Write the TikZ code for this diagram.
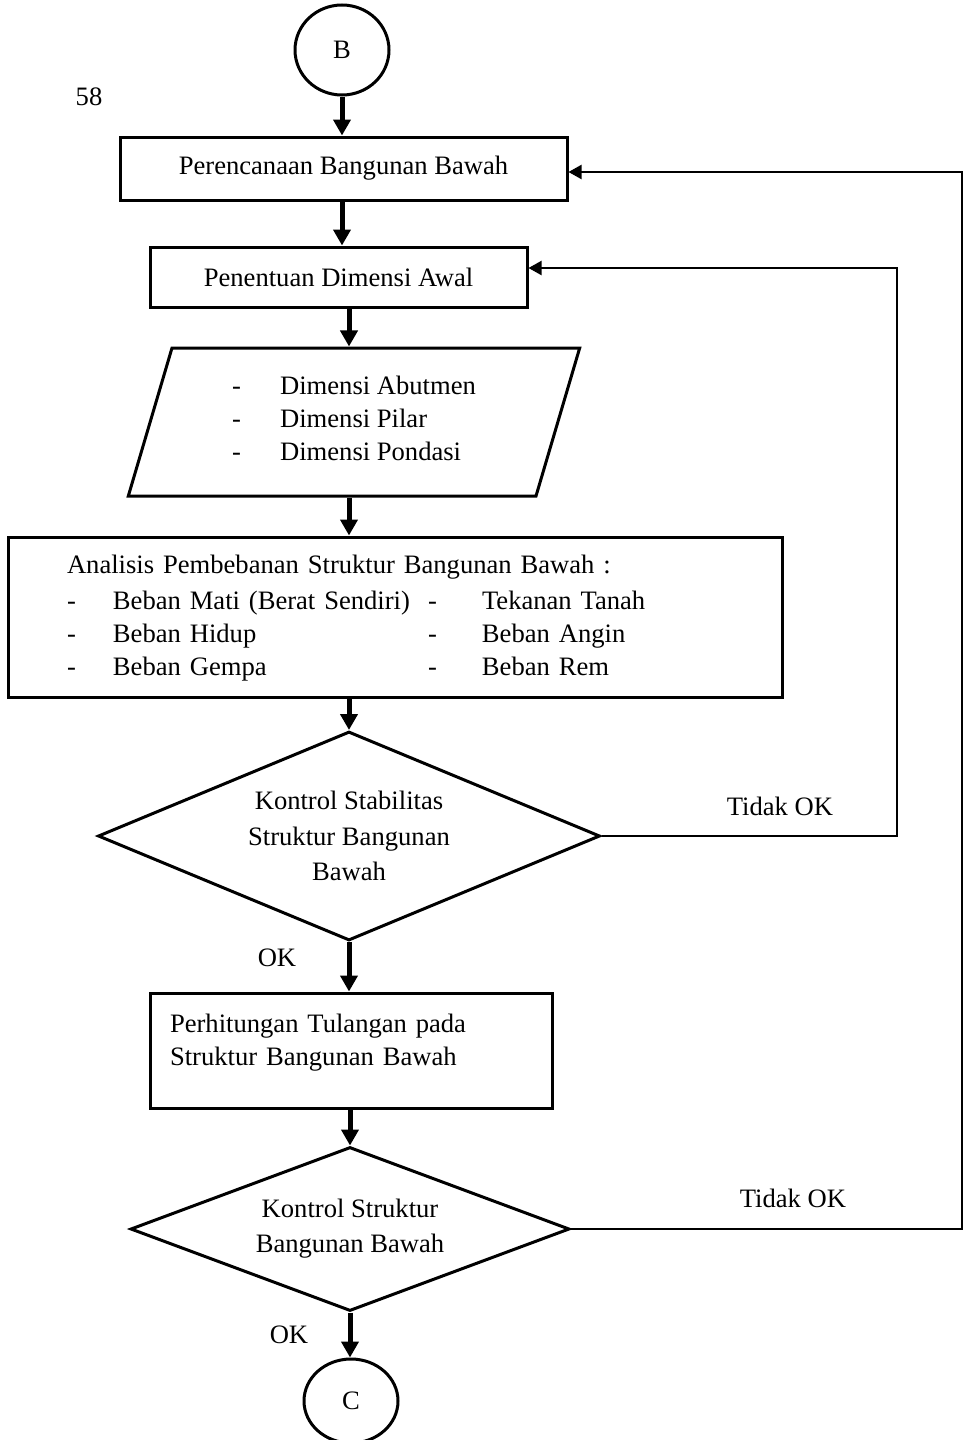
\documentclass[tikz,border=0pt]{standalone}
\usepackage{fontspec}
\setmainfont{Liberation Serif}
\usetikzlibrary{
  arrows.meta,
  shapes.geometric,
  positioning,
  calc
}
\newcommand{\fcfont}{\fontsize{13.3}{16.5}\selectfont}
\newcommand{\fcitem}[1]{\makebox[#1][l]{-}}
\tikzset{
  fcnode/.style={
    draw, line width=1.5pt, font=\fcfont, align=center, inner sep=0pt
  },
  fcbox/.style={fcnode, rectangle},
  fcio/.style={fcnode, trapezium, trapezium left angle=74, trapezium right angle=106,
    trapezium stretches=true, align=left, minimum width=226pt, minimum height=74pt},
  fcdec/.style={fcnode, diamond},
  fcconn/.style={fcnode, ellipse, minimum width=47pt},
  fcflow/.style={-{Triangle[length=8pt, width=8.5pt]}, line width=2.5pt},
  fcback/.style={-{Triangle[length=6.5pt, width=7pt]}, line width=1pt},
  fctag/.style={font=\fcfont, inner sep=0pt}
}

\begin{document}
\begin{tikzpicture}[x=0.5pt, y=-0.5pt]
  \useasboundingbox (0,0) rectangle (970,1440);

  \node[fcconn, minimum height=45pt] (b) at (342,50) {B};
  \node[fctag] (page) at (89,97) {58};

  \node[fcbox, minimum width=223.5pt, minimum height=31.5pt] (plan) at (343.5,168.5) {Perencanaan Bangunan Bawah};
  \node[fcbox, minimum width=188.5pt, minimum height=30pt] (dim) at (338.5,277) {Penentuan Dimensi Awal};
  \node[fcio] (dimlist) at (354,422) {%
    \begin{tabular}{@{}l@{}}
      \fcitem{24pt}Dimensi Abutmen\\
      \fcitem{24pt}Dimensi Pilar\\
      \fcitem{24pt}Dimensi Pondasi\\[1.5pt]
    \end{tabular}};
  \node[fcbox, text width=328pt, inner xsep=29.5pt, minimum height=80pt, align=left] (load) at (395,617) {%
    \begin{tabular}{@{}p{23pt}@{}p{157.5pt}@{}p{27pt}@{}l@{}}
      \multicolumn{4}{@{}l@{}}{Analisis Pembebanan Struktur Bangunan Bawah :}\\[1.5pt]
      - & Beban Mati (Berat Sendiri) & - & Tekanan Tanah\\
      - & Beban Hidup & - & Beban Angin\\
      - & Beban Gempa & - & Beban Rem\\[-1pt]
    \end{tabular}};
  \node[fcdec, aspect=2.4, minimum width=251pt, minimum height=104.5pt,
    font=\fontsize{13.3}{17.75}\selectfont] (stab) at (349,836) {Kontrol Stabilitas\\Struktur Bangunan\\Bawah};
  \node[fcbox, text width=181pt, inner xsep=10pt, minimum height=57.5pt, align=left] (rebar) at (351,1050.5) {%
    \begin{tabular}{@{}l@{}}
      Perhitungan Tulangan pada\\
      Struktur Bangunan Bawah\\[8.5pt]
    \end{tabular}};
  \node[fcdec, aspect=2.68, minimum width=219.5pt, minimum height=82pt,
    font=\fontsize{13.3}{17.5}\selectfont] (check) at (350,1229) {Kontrol Struktur\\Bangunan Bawah};
  \node[fcconn, minimum height=42pt] (c) at (351,1401) {C};

  \node[fctag] (ok1) at (277,958) {OK};
  \node[fctag] (ok2) at (289,1335) {OK};
  \node[fctag] (no1) at (780,806) {Tidak OK};
  \node[fctag] (no2) at (793,1198) {Tidak OK};

  \draw[fcflow] (b.south) -- (b.south |- plan.north);
  \draw[fcflow] (b.south |- plan.south) -- (b.south |- dim.north);
  \draw[fcflow] (stab.north |- dim.south) -- (stab.north |- dimlist.north);
  \draw[fcflow] (stab.north |- dimlist.south) -- (stab.north |- load.north);
  \draw[fcflow] (stab.north |- load.south) -- (stab.north);
  \draw[fcflow] (stab.south) -- (stab.south |- rebar.north);
  \draw[fcflow] (check.north |- rebar.south) -- (check.north);
  \draw[fcflow] (check.south) -- (check.south |- c.north);

  \coordinate (back1) at (897,268);
  \coordinate (back2) at (962,172);
  \draw[fcback] (stab.east) -| (back1) -- (back1 -| dim.east);
  \draw[fcback] (check.east) -| (back2) -- (back2 -| plan.east);
\end{tikzpicture}
\end{document}
